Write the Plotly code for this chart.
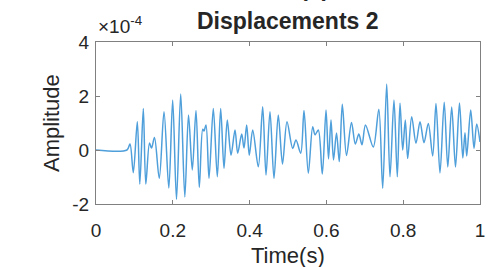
import plotly.graph_objects as go

# Time (s) of the read turning points of the displacement trace
time_s = [0, 0.0807, 0.0885, 0.0971, 0.1076, 0.1141, 0.1232, 0.1297, 0.1393, 0.1445,
          0.1523, 0.1648, 0.1771, 0.1896, 0.1997, 0.2096, 0.2206, 0.2313, 0.2409, 0.2508,
          0.2604, 0.2690, 0.2779, 0.2813, 0.2865, 0.2943, 0.3055, 0.3159, 0.3247, 0.3333,
          0.3419, 0.3516, 0.3620, 0.3690, 0.3794, 0.3854, 0.3924, 0.3992, 0.4081, 0.4227,
          0.4341, 0.4427, 0.4531, 0.4635, 0.4747, 0.4857, 0.4974, 0.5122, 0.5208, 0.5331,
          0.5417, 0.5529, 0.5643, 0.5703, 0.5789, 0.5893, 0.5990, 0.6055, 0.6120, 0.6185,
          0.6263, 0.6336, 0.6414, 0.6523, 0.6654, 0.6753, 0.6844, 0.6927, 0.7018, 0.7221,
          0.7365, 0.7466, 0.7570, 0.7656, 0.7760, 0.7846, 0.7917, 0.7987, 0.8055, 0.8117,
          0.8221, 0.8333, 0.8438, 0.8542, 0.8654, 0.8768, 0.8854, 0.8958, 0.9068, 0.9161,
          0.9263, 0.9362, 0.9466, 0.9552, 0.9609, 0.9654, 0.9758, 0.9844, 0.9914, 1.0]

# Amplitude in units of 1e-4
amplitude_e4 = [0, 0, 0.22, -0.84, 1.05, -1.26, 1.54, -1.26, 0.26, 0.07,
                0.46, -1.05, 1.42, -1.41, 1.85, -1.83, 2.07, -1.74, 1.30, -0.74,
                1.46, -1.38, 0.77, 0.70, 0.93, -1.05, 1.54, -0.99, 1.54, -0.68,
                1.11, -0.19, 0.74, -0.12, 0.59, 0.07, 0.93, -0.19, 0.74, -0.62,
                1.60, -0.93, 1.42, -1.05, 1.30, -0.52, 1.05, 0.06, 0.37, -0.12,
                1.46, -0.86, 0.86, 0.56, 0.74, -0.89, 1.48, -0.33, 1.11, -0.37,
                0.63, -0.43, 1.69, -0.20, 1.02, 0.22, 0.59, 0.19, 0.93, 0.11,
                1.51, -1.42, 2.44, -0.99, 1.85, -0.99, 1.73, 0.00, 1.11, -0.31,
                1.23, 0.25, 1.05, 0.27, 0.98, -0.22, 1.72, -0.85, 1.77, -0.63,
                1.59, -0.63, 1.74, -0.30, 0.64, -0.22, 1.48, 0.06, 0.96, 0.30]

amplitude = [v * 1e-4 for v in amplitude_e4]

x_ticks = [0, 0.2, 0.4, 0.6, 0.8, 1]
x_tick_labels = ["0", "0.2", "0.4", "0.6", "0.8", "1"]
y_ticks = [-2e-4, 0, 2e-4, 4e-4]
y_tick_labels = ["-2", "0", "2", "4"]

FONT = "Liberation Sans, Arial, Helvetica, sans-serif"
TXT = "#262626"
AX = "#808080"

fig = go.Figure()
fig.add_trace(go.Scatter(x=time_s, y=amplitude, mode="lines",
                         line=dict(color="#4f9fdb", width=1.5, shape="spline", smoothing=0.9),
                         hoverinfo="skip", showlegend=False))

fig.update_layout(
    width=493, height=267,
    margin=dict(l=96, r=13, t=42, b=63, autoexpand=False),
    paper_bgcolor="white", plot_bgcolor="white",
    font=dict(family=FONT, color=TXT, size=19),
    xaxis=dict(range=[0, 1], tickvals=x_ticks, ticktext=x_tick_labels,
               ticks="inside", ticklen=4, tickcolor=AX, showline=True, linecolor=AX,
               linewidth=1, mirror="ticks", showgrid=False, zeroline=False,
               automargin=False, ticklabelstandoff=9,
               tickfont=dict(size=19, color=TXT)),
    yaxis=dict(range=[-2e-4, 4e-4], tickvals=y_ticks, ticktext=y_tick_labels,
               ticks="inside", ticklen=4, tickcolor=AX, showline=True, linecolor=AX,
               linewidth=1, mirror="ticks", showgrid=False, zeroline=False,
               automargin=False, ticklabelstandoff=2,
               tickfont=dict(size=19, color=TXT)),
    annotations=[
        dict(text="<b>Displacements 2</b>", xref="paper", yref="paper",
             x=0.5, y=(204 - 21) / 162, xanchor="center", yanchor="middle",
             showarrow=False, font=dict(size=23, color=TXT)),
        dict(text="<b>(b)</b>", xref="paper", yref="paper",
             x=(314 - 96) / 384, y=(204 - 3) / 162, xanchor="center", yanchor="bottom",
             showarrow=False, font=dict(size=23, color=TXT)),
        dict(text="×10<sup>-4</sup>", xref="paper", yref="paper",
             x=0.0, y=(204 - 39) / 162, xanchor="left", yanchor="bottom",
             showarrow=False, font=dict(size=19, color=TXT)),
        dict(text="Time(s)", xref="paper", yref="paper",
             x=0.5, y=(204 - 255) / 162, xanchor="center", yanchor="middle",
             showarrow=False, font=dict(size=22, color=TXT)),
        dict(text="Amplitude", xref="paper", yref="paper",
             x=(51 - 96) / 384, y=(204 - 123) / 162, xanchor="center", yanchor="middle",
             textangle=-90, showarrow=False, font=dict(size=22, color=TXT)),
    ],
)

fig.write_html("out.html", config={"displayModeBar": False},
               post_script="document.body.style.margin='0';")
